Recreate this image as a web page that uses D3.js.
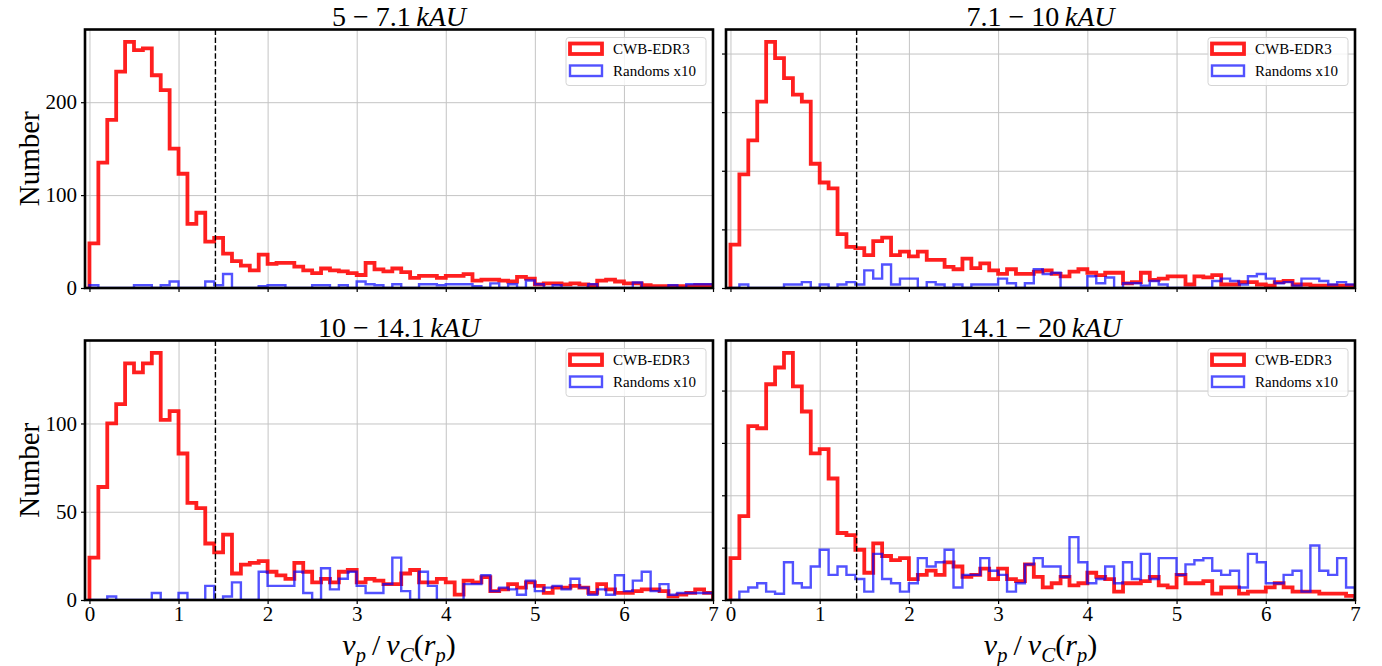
<!DOCTYPE html>
<html>
<head>
<meta charset="utf-8">
<script src="https://cdn.jsdelivr.net/npm/d3@7"></script>
<style>
  html, body { margin: 0; padding: 0; background: #fff; }
  svg { display: block; font-family: "Liberation Serif", "Times New Roman", serif; }
</style>
</head>
<body>
<svg id="chart" width="1382" height="666"></svg>
<script>
// ---- histogram binning (v_p / v_C(r_p), 0 to 7 in steps of 0.1) ----
const binWidth = 0.1;
const binCount = 70;
const xTicks = [0, 1, 2, 3, 4, 5, 6, 7];
const escapeRatio = Math.SQRT2;

// ---- panel labels ----
const panelRanges = ["5 − 7.1", "7.1 − 10", "10 − 14.1", "14.1 − 20"];
const rangeUnit = "kAU";
const seriesNames = ["CWB-EDR3", "Randoms x10"];
const yTicksPanel = [[0, 100, 200], [0, 50, 100, 150, 200], [0, 50, 100], [0, 25, 50, 75, 100]];

// ---- counts per bin: 5 - 7.1 kAU ----
const cwb_5_7 = [48,135,181,233,265,256,258,229,213,150, 123,69,81,50,54,37,29,24,19,36,
                 26,27,27,23,19,16,21,19,18,16, 14,27,20,18,21,17,11,13,13,11,
                 13,13,15,8,9,9,8,7,12,10, 4,5,5,4,5,4,3,8,9,7, 5,5,3,2,2,2,2,2,3,3];
const rnd_5_7 = [3,0,0,0,0,3,3,0,3,7, 0,0,0,7,3,15,0,0,0,2, 3,3,0,0,0,3,3,0,3,0,
                 7,4,3,0,4,0,0,4,4,3, 4,4,4,2,0,5,0,4,0,8, 4,0,3,0,0,0,4,0,0,0, 0,6,0,0,0,3,0,4,4,4];

// ---- counts per bin: 7.1 - 10 kAU ----
const cwb_7_10 = [37,97,126,159,210,196,179,165,159,106, 90,85,46,35,34,28,40,43,28,31,
                  27,31,24,24,18,16,25,17,21,15, 12,16,12,12,14,15,12,10,14,16,
                  13,11,13,13,4,5,13,7,8,10, 10,3,10,9,11,3,3,5,5,3, 2,5,6,3,3,2,2,2,2,2];
const rnd_7_10 = [0,3,0,0,0,0,3,3,5,0, 3,0,3,5,3,15,8,20,3,8, 8,0,5,3,0,3,0,3,3,3,
                  8,4,0,4,16,12,13,0,0,0, 10,4,9,0,4,4,2,6,3,0, 0,0,0,0,6,8,6,3,10,12, 8,4,5,2,8,8,6,3,5,3];

// ---- counts per bin: 10 - 14.1 kAU ----
const cwb_10_14 = [24,64,100,111,134,129,134,140,102,107, 83,55,52,32,27,37,15,20,21,22,
                   16,14,12,21,16,10,12,10,16,17, 10,12,11,9,9,15,17,10,10,12,
                   10,3,11,10,13,5,6,9,7,10, 8,4,7,7,8,7,4,9,6,4, 4,5,6,6,5,2,3,4,6,4];
const rnd_10_14 = [0,0,2,0,0,0,0,4,0,0, 4,0,0,8,0,2,10,0,0,16, 8,8,8,16,4,0,18,6,12,16,
                   8,4,4,9,24,5,0,16,8,0, 0,0,9,9,14,5,7,6,3,11, 5,7,8,6,12,7,3,6,3,14, 5,11,16,5,9,3,4,4,4,4];

// ---- counts per bin: 14.1 - 20 kAU ----
const cwb_14_20 = [20,40,83,82,103,111,118,102,90,70, 72,58,32,31,24,13,27,21,19,20,
                   10,12,14,12,18,16,11,12,15,10, 15,10,9,17,11,6,8,11,7,8,
                   13,11,10,4,8,8,9,11,7,6, 12,8,8,9,3,6,6,3,4,4, 6,8,6,4,4,4,3,3,3,2];
const rnd_14_20 = [0,4,6,8,4,3,18,8,6,16, 24,12,16,12,10,4,22,10,8,4, 8,20,16,18,24,6,12,12,20,14,
                   12,4,8,17,20,16,16,11,30,18, 8,10,16,8,18,10,22,10,20,20, 12,17,19,20,14,12,14,6,22,18, 8,8,12,14,4,26,14,12,20,6];

const cwbSeries = [cwb_5_7, cwb_7_10, cwb_10_14, cwb_14_20];
const rndSeries = [rnd_5_7, rnd_7_10, rnd_10_14, rnd_14_20];

// ---- layout ----
const svg = d3.select("#chart");
const frames = [
  { x0: 85,  x1: 713,  y0: 29.5,  y1: 288, left: true,  bottom: false },
  { x0: 726, x1: 1355, y0: 29.5,  y1: 288, left: false, bottom: false },
  { x0: 85,  x1: 713,  y0: 340.5, y1: 600, left: true,  bottom: true },
  { x0: 726, x1: 1355, y0: 340.5, y1: 600, left: false, bottom: true }
];
const cwbColor = "rgba(255,0,0,0.88)";
const rndColor = "rgba(0,0,255,0.68)";

function stepPoints(counts) {
  const pts = [[0, 0]];
  counts.forEach((c, i) => pts.push([i * binWidth, c]));
  pts.push([binCount * binWidth, counts[counts.length - 1]]);
  pts.push([binCount * binWidth, 0]);
  return pts;
}

frames.forEach((f, k) => {
  const w = f.x1 - f.x0, h = f.y1 - f.y0;
  const g = svg.append("g").attr("transform", `translate(${f.x0},${f.y0})`);
  const x = d3.scaleLinear().domain([-0.05, 7]).range([0, w]);
  const ymax = d3.max(cwbSeries[k].concat(rndSeries[k])) * 1.05;
  const y = d3.scaleLinear().domain([0, ymax]).range([h, 0]);

  g.append("clipPath").attr("id", "clip" + k)
    .append("rect").attr("width", w).attr("height", h);

  // grid
  const gx = g.append("g").attr("transform", `translate(0,${h})`)
    .call(d3.axisBottom(x).tickValues(xTicks).tickSize(-h).tickFormat(""));
  const gy = g.append("g")
    .call(d3.axisLeft(y).tickValues(yTicksPanel[k]).tickSize(-w).tickFormat(""));
  [gx, gy].forEach(a => {
    a.select(".domain").remove();
    a.selectAll("line").attr("stroke", "#c4c4c4").attr("stroke-width", 1);
  });

  // histograms (step outlines)
  const line = d3.line().x(d => x(d[0])).y(d => y(d[1])).curve(d3.curveStepAfter);
  const plot = g.append("g").attr("clip-path", `url(#clip${k})`);
  plot.append("path").attr("d", line(stepPoints(cwbSeries[k])))
    .attr("fill", "none").attr("stroke", cwbColor).attr("stroke-width", 3.8)
    .attr("stroke-linejoin", "miter");
  plot.append("path").attr("d", line(stepPoints(rndSeries[k])))
    .attr("fill", "none").attr("stroke", rndColor).attr("stroke-width", 2.4)
    .attr("stroke-linejoin", "miter");

  // escape velocity marker
  plot.append("line")
    .attr("x1", x(escapeRatio)).attr("x2", x(escapeRatio))
    .attr("y1", 0).attr("y2", h)
    .attr("stroke", "#000").attr("stroke-width", 1.4).attr("stroke-dasharray", "5.5,2.4");

  // axes ticks
  const ax = g.append("g").attr("transform", `translate(0,${h})`)
    .call(d3.axisBottom(x).tickValues(xTicks).tickSize(4).tickPadding(2)
      .tickFormat(f.bottom ? d3.format("d") : ""));
  const ay = g.append("g")
    .call(d3.axisLeft(y).tickValues(yTicksPanel[k]).tickSize(4).tickPadding(4)
      .tickFormat(f.left ? d3.format("d") : ""));
  [ax, ay].forEach(a => {
    a.select(".domain").remove();
    a.selectAll("line").attr("stroke", "#000").attr("stroke-width", 1.2);
    a.selectAll("text").attr("fill", "#000").style("font-size", "21px")
      .style("font-family", '"Liberation Serif", serif');
  });

  // frame
  g.append("rect").attr("width", w).attr("height", h)
    .attr("fill", "none").attr("stroke", "#000").attr("stroke-width", 2.6);

  // legend
  const lg = g.append("g").attr("transform", `translate(${w - 147},8)`);
  lg.append("rect").attr("width", 140).attr("height", 48).attr("rx", 3)
    .attr("fill", "rgba(255,255,255,0.8)").attr("stroke", "#d4d4d4").attr("stroke-width", 1);
  [[cwbColor, 3.8], [rndColor, 2.4]].forEach((s, i) => {
    lg.append("rect").attr("x", 4).attr("y", 6 + i * 22).attr("width", 32).attr("height", 10.5)
      .attr("fill", "none").attr("stroke", s[0]).attr("stroke-width", s[1]);
    lg.append("text").attr("x", 47).attr("y", 16.5 + i * 22)
      .style("font-size", "15px").attr("fill", "#000").text(seriesNames[i]);
  });

  // title
  const t = svg.append("text").attr("x", (f.x0 + f.x1) / 2).attr("y", f.y0 - 4)
    .attr("text-anchor", "middle").style("font-size", "28px").attr("fill", "#000");
  t.append("tspan").text(panelRanges[k] + "\u2009");
  t.append("tspan").attr("font-style", "italic").text(rangeUnit);

  // y label
  if (f.left) {
    svg.append("text")
      .attr("transform", `translate(39,${(f.y0 + f.y1) / 2}) rotate(-90)`)
      .attr("text-anchor", "middle").style("font-size", "29px").attr("fill", "#000")
      .text("Number");
  }
  // x label
  if (f.bottom) {
    const xl = svg.append("text").attr("x", (f.x0 + f.x1) / 2).attr("y", 655)
      .attr("text-anchor", "middle").style("font-size", "30px").attr("fill", "#000");
    const parts = [["v", true, 0, 30], ["p", true, 7, 21], ["\u2009/\u2009", false, -7, 30], ["v", true, 0, 30],
                   ["C", true, 7, 21], ["(", false, -7, 30], ["r", true, 0, 30], ["p", true, 7, 21], [")", false, -7, 30]];
    parts.forEach(p => {
      xl.append("tspan").attr("font-style", p[1] ? "italic" : "normal")
        .attr("dy", p[2]).style("font-size", p[3] + "px").text(p[0]);
    });
  }
});
</script>
</body>
</html>
